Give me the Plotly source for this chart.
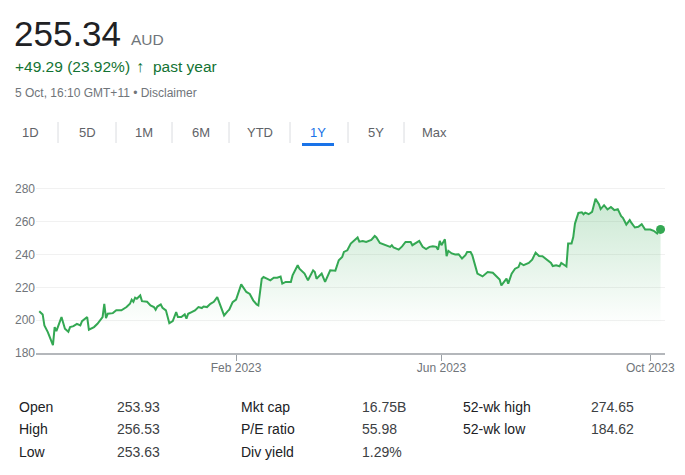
import plotly.graph_objects as go

# ---------------- data ----------------
dates = [
    "2022-10-09", "2022-10-11", "2022-10-12", "2022-10-14", "2022-10-17", "2022-10-18", "2022-10-19",
    "2022-10-21", "2022-10-22", "2022-10-24", "2022-10-26", "2022-10-27", "2022-10-29", "2022-10-31",
    "2022-11-02", "2022-11-03", "2022-11-06", "2022-11-07", "2022-11-10", "2022-11-12", "2022-11-13",
    "2022-11-15", "2022-11-16", "2022-11-17", "2022-11-18", "2022-11-21", "2022-11-23", "2022-11-26",
    "2022-11-29", "2022-12-01", "2022-12-02", "2022-12-03", "2022-12-04", "2022-12-05", "2022-12-07",
    "2022-12-08", "2022-12-11", "2022-12-13", "2022-12-15", "2022-12-16", "2022-12-17", "2022-12-19",
    "2022-12-20", "2022-12-22", "2022-12-24", "2022-12-26", "2022-12-28", "2022-12-29", "2022-12-31",
    "2023-01-02", "2023-01-03", "2023-01-04", "2023-01-06", "2023-01-08", "2023-01-10", "2023-01-12",
    "2023-01-13", "2023-01-15", "2023-01-17", "2023-01-19", "2023-01-21", "2023-01-23", "2023-01-25",
    "2023-01-27", "2023-01-28", "2023-01-30", "2023-02-01", "2023-02-04", "2023-02-05", "2023-02-07",
    "2023-02-09", "2023-02-11", "2023-02-13", "2023-02-14", "2023-02-16", "2023-02-17", "2023-02-19",
    "2023-02-21", "2023-02-23", "2023-02-25", "2023-02-27", "2023-02-28", "2023-03-02", "2023-03-05",
    "2023-03-06", "2023-03-09", "2023-03-10", "2023-03-13", "2023-03-15", "2023-03-18", "2023-03-19",
    "2023-03-20", "2023-03-23", "2023-03-25", "2023-03-28", "2023-03-31", "2023-04-02", "2023-04-04",
    "2023-04-05", "2023-04-07", "2023-04-09", "2023-04-11", "2023-04-13", "2023-04-14", "2023-04-16",
    "2023-04-18", "2023-04-21", "2023-04-23", "2023-04-24", "2023-04-26", "2023-04-29", "2023-05-02",
    "2023-05-03", "2023-05-04", "2023-05-07", "2023-05-09", "2023-05-11", "2023-05-14", "2023-05-15",
    "2023-05-17", "2023-05-19", "2023-05-21", "2023-05-23", "2023-05-25", "2023-05-27", "2023-05-29",
    "2023-05-30", "2023-05-31", "2023-06-01", "2023-06-03", "2023-06-04", "2023-06-05", "2023-06-07",
    "2023-06-09", "2023-06-11", "2023-06-13", "2023-06-15", "2023-06-16", "2023-06-18", "2023-06-19",
    "2023-06-22", "2023-06-25", "2023-06-27", "2023-06-28", "2023-07-01", "2023-07-03", "2023-07-05",
    "2023-07-06", "2023-07-09", "2023-07-10", "2023-07-12", "2023-07-14", "2023-07-16", "2023-07-17",
    "2023-07-19", "2023-07-22", "2023-07-24", "2023-07-26", "2023-07-28", "2023-07-30", "2023-08-02",
    "2023-08-04", "2023-08-05", "2023-08-07", "2023-08-09", "2023-08-10", "2023-08-12", "2023-08-13",
    "2023-08-14", "2023-08-16", "2023-08-17", "2023-08-18", "2023-08-20", "2023-08-22", "2023-08-23",
    "2023-08-24", "2023-08-26", "2023-08-28", "2023-08-30", "2023-09-01", "2023-09-02", "2023-09-04",
    "2023-09-06", "2023-09-08", "2023-09-10", "2023-09-12", "2023-09-14", "2023-09-15", "2023-09-17",
    "2023-09-19", "2023-09-20", "2023-09-22", "2023-09-24", "2023-09-26", "2023-09-28", "2023-10-01",
    "2023-10-03", "2023-10-05", "2023-10-06", "2023-10-07",
]
prices = [
    205.5, 203.5, 196.8, 192.7, 184.8, 195.8, 193.3,
    198.8, 201.9, 194.8, 192.9, 195.8, 196.4, 197.8,
    196.8, 199.4, 201.9, 194.2, 195.8, 197.8, 199.4,
    201.9, 210.0, 201.3, 203.9, 204.3, 206.0, 206.0,
    208.0, 210.0, 212.5, 211.2, 213.7, 213.1, 215.1,
    211.6, 211.2, 209.0, 208.0, 206.4, 208.3, 209.6,
    207.6, 206.0, 198.2, 199.4, 204.9, 201.9, 201.9,
    203.5, 200.9, 203.9, 204.9, 206.0, 208.0, 207.4,
    208.3, 208.0, 210.0, 211.2, 214.1, 209.0, 202.9,
    205.4, 206.4, 211.0, 212.5, 221.8, 220.3, 217.2,
    216.0, 212.1, 209.6, 209.0, 225.3, 226.3, 225.3,
    224.3, 225.9, 225.9, 226.6, 222.3, 223.3, 223.3,
    227.3, 233.5, 231.4, 228.4, 224.3, 230.4, 229.4,
    225.3, 228.4, 223.3, 230.4, 230.2, 236.5, 238.5,
    241.6, 242.6, 246.7, 248.3, 250.4, 247.9, 248.3,
    247.7, 248.9, 251.3, 250.4, 247.1, 245.7, 244.7,
    245.7, 244.3, 243.0, 245.0, 247.7, 247.7, 245.7,
    247.1, 248.3, 244.7, 243.4, 244.7, 245.0, 244.7,
    243.0, 248.3, 245.7, 249.3, 239.0, 242.3, 240.7,
    240.0, 240.2, 237.6, 239.6, 241.6, 241.6, 239.6,
    228.4, 226.7, 228.9, 229.4, 228.9, 227.0, 224.8,
    221.2, 225.3, 222.3, 228.4, 231.4, 232.4, 234.9,
    233.5, 234.9, 236.9, 241.2, 239.1, 239.0, 236.5,
    234.9, 233.0, 233.5, 232.9, 234.9, 233.5, 232.8,
    246.7, 246.7, 250.7, 258.9, 265.4, 265.8, 264.6,
    265.6, 264.6, 266.0, 274.0, 270.7, 267.7, 270.1,
    267.5, 269.0, 267.1, 267.7, 263.4, 262.4, 258.3,
    261.0, 259.3, 256.5, 256.9, 258.5, 255.3, 255.3,
    254.5, 252.8, 254.8, 255.34,
]

y_ticks = [180, 200, 220, 240, 260, 280]
x_tick_dates = ["2023-02-01", "2023-06-01", "2023-10-01"]
x_tick_labels = ["Feb 2023", "Jun 2023", "Oct 2023"]

price_now = "255.34"
currency = "AUD"
change_text = "+49.29 (23.92%)"
period_text = "past year"
timestamp_text = "5 Oct, 16:10 GMT+11 • Disclaimer"
range_buttons = ["1D", "5D", "1M", "6M", "YTD", "1Y", "5Y", "Max"]
active_range = "1Y"
stat_labels = [["Open", "High", "Low"], ["Mkt cap", "P/E ratio", "Div yield"], ["52-wk high", "52-wk low"]]
stat_values = [["253.93", "256.53", "253.63"], ["16.75B", "55.98", "1.29%"], ["274.65", "184.62"]]

# ---------------- layout helpers ----------------
W, H = 685, 475
L, R, T, B = 36, 665, 186, 353
FONT = "Arial, 'Liberation Sans', sans-serif"
GREEN = "#34a853"
TEXT_GREEN = "#137333"
GRAY = "#70757a"


def px(x):
    return (x - L) / (R - L)


def py(y):
    return (B - y) / (B - T)


fig = go.Figure()
fig.add_trace(go.Scatter(
    x=dates, y=prices, mode="lines",
    line=dict(color=GREEN, width=2),
    fill="tozeroy",
    fillgradient=dict(type="vertical",
                      colorscale=[[0, "rgba(52,168,83,0)"], [1, "rgba(52,168,83,0.26)"]],
                      start=196, stop=274),
    hoverinfo="skip", showlegend=False,
))
fig.add_trace(go.Scatter(
    x=[dates[-1]], y=[prices[-1]], mode="markers",
    marker=dict(color=GREEN, size=9), hoverinfo="skip", showlegend=False,
))

annotations = []


def text(x, y, s, size, color, anchor="left", weight="normal"):
    annotations.append(dict(
        x=px(x), y=py(y), xref="paper", yref="paper", text=s, showarrow=False,
        xanchor=anchor, yanchor="middle", borderpad=0,
        font=dict(family=FONT, size=size, color=color, weight=weight),
    ))


# header
text(13, 33, price_now, 35, "#202124")
text(130, 39, currency, 15.5, GRAY)
text(14, 66, change_text, 15.5, TEXT_GREEN)
text(135, 66, "↑", 16, TEXT_GREEN, weight="bold")
text(152, 66, period_text, 15.5, TEXT_GREEN)
text(14, 93, timestamp_text, 12, GRAY)

# range tabs
tab_x = [30, 87, 144, 201, 260, 318, 376, 434]
for lab, tx in zip(range_buttons, tab_x):
    text(tx, 132, lab, 13, "#1a73e8" if lab == active_range else "#5f6368", anchor="center")

shapes = []
for sx in [58, 116, 172, 229, 290, 348, 404]:
    shapes.append(dict(type="line", xref="paper", yref="paper",
                       x0=px(sx), x1=px(sx), y0=py(122), y1=py(143),
                       line=dict(color="#dadce0", width=1)))
shapes.append(dict(type="rect", xref="paper", yref="paper",
                   x0=px(302), x1=px(334), y0=py(146), y1=py(143),
                   fillcolor="#1a73e8", line=dict(width=0)))

# stats table
label_x = [18, 240, 462]
value_x = [116, 361, 590]
row_y = [407, 429, 452]
for c in range(3):
    for r, (lab, val) in enumerate(zip(stat_labels[c], stat_values[c])):
        text(label_x[c], row_y[r], lab, 14, "#202124")
        text(value_x[c], row_y[r], val, 14, "#3c4043")

fig.update_layout(
    width=W, height=H,
    margin=dict(l=L, r=W - R, t=T, b=H - B, autoexpand=False),
    paper_bgcolor="white", plot_bgcolor="white",
    font=dict(family=FONT, color=GRAY, size=12),
    showlegend=False,
    annotations=annotations,
    shapes=shapes,
    xaxis=dict(
        type="date",
        range=["2022-10-07 02:24", "2023-10-09 14:24"],
        tickvals=x_tick_dates, ticktext=x_tick_labels,
        ticks="outside", ticklen=6, tickwidth=1, tickcolor="#9aa0a6",
        ticklabelstandoff=-3,
        showline=True, linecolor="#b4b7bb", linewidth=2,
        showgrid=False, zeroline=False,
        tickfont=dict(family=FONT, size=12, color=GRAY),
        fixedrange=True,
    ),
    yaxis=dict(
        range=[180, 281.8],
        tickvals=y_ticks,
        showgrid=True, gridcolor="#f1f1f1", gridwidth=1,
        zeroline=False, showline=False, ticks="",
        tickfont=dict(family=FONT, size=12, color=GRAY),
        fixedrange=True, automargin=False,
    ),
)

fig.write_html("out.html", config={"displayModeBar": False})
